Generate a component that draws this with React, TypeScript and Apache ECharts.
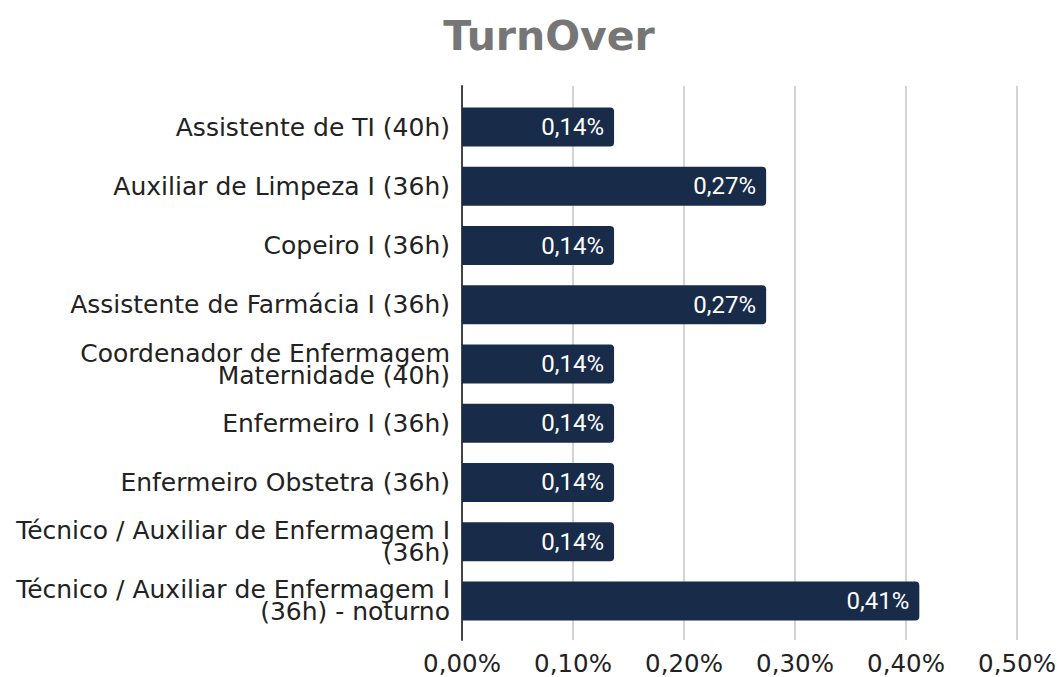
import React, { useEffect, useRef } from "react";
import * as echarts from "echarts";

const title = "TurnOver";
const categories = [
  "Assistente de TI (40h)",
  "Auxiliar de Limpeza I (36h)",
  "Copeiro I (36h)",
  "Assistente de Farmácia I (36h)",
  "Coordenador de Enfermagem\nMaternidade (40h)",
  "Enfermeiro I (36h)",
  "Enfermeiro Obstetra (36h)",
  "Técnico / Auxiliar de Enfermagem I\n(36h)",
  "Técnico / Auxiliar de Enfermagem I\n(36h) - noturno",
];
const values = [0.137, 0.274, 0.137, 0.274, 0.137, 0.137, 0.137, 0.137, 0.412];
const xMin = 0;
const xMax = 0.5;
const xStep = 0.1;

const fmt = (v: number) => v.toFixed(2).replace(".", ",") + "%";

export default function App() {
  const ref = useRef<HTMLDivElement>(null);
  useEffect(() => {
    if (!ref.current) return;
    const chart = echarts.init(ref.current, undefined, { renderer: "svg" });
    chart.setOption({
      animation: false,
      backgroundColor: "#ffffff",
      title: {
        text: title,
        left: 544,
        top: 10,
        textAlign: "center",
        textStyle: {
          fontFamily: "DejaVu Sans",
          fontWeight: "bold",
          fontSize: 41,
          color: "#767676",
        },
      },
      grid: [
        { left: 462, right: 42, top: 97.5, height: 533, containLabel: false },
        { left: 462, right: 42, top: 86, height: 554, containLabel: false },
      ],
      xAxis: [
        {
          gridIndex: 0,
          type: "value",
          min: xMin,
          max: xMax,
          interval: xStep,
          show: false,
        },
        {
          gridIndex: 1,
          type: "value",
          min: xMin,
          max: xMax,
          interval: xStep,
          axisLine: { show: false },
          axisTick: { show: false },
          splitLine: { show: true, lineStyle: { color: "#d4d4d4", width: 2 } },
          axisLabel: {
            formatter: (v: number) => fmt(v),
            fontFamily: "DejaVu Sans",
            fontSize: 24.5,
            color: "#222222",
            margin: 11,
          },
        },
      ],
      yAxis: [
        {
          gridIndex: 0,
          type: "category",
          data: categories,
          inverse: true,
          axisLine: { show: false },
          axisTick: { show: false },
          splitLine: { show: false },
          axisLabel: {
            fontFamily: "DejaVu Sans",
            fontSize: 25,
            lineHeight: 22,
            color: "#222222",
            margin: 12,
            align: "right",
          },
        },
        {
          gridIndex: 1,
          type: "value",
          min: 0,
          max: 1,
          axisLine: { show: true, lineStyle: { color: "#444444", width: 2 } },
          axisTick: { show: false },
          axisLabel: { show: false },
          splitLine: { show: false },
        },
      ],
      series: [
        {
          type: "bar",
          xAxisIndex: 0,
          yAxisIndex: 0,
          data: values,
          barWidth: 39,
          itemStyle: { color: "#182b49", borderRadius: [0, 4, 4, 0] },
          label: {
            show: true,
            position: "insideRight",
            distance: 10,
            formatter: (p: any) => fmt(p.value),
            fontFamily: "Roboto",
            fontSize: 24,
            color: "#ffffff",
          },
          z: 3,
        },
      ],
    });
    return () => chart.dispose();
  }, []);
  return <div ref={ref} style={{ width: 1059, height: 677, position: "absolute", left: 0, top: 0 }} />;
}
